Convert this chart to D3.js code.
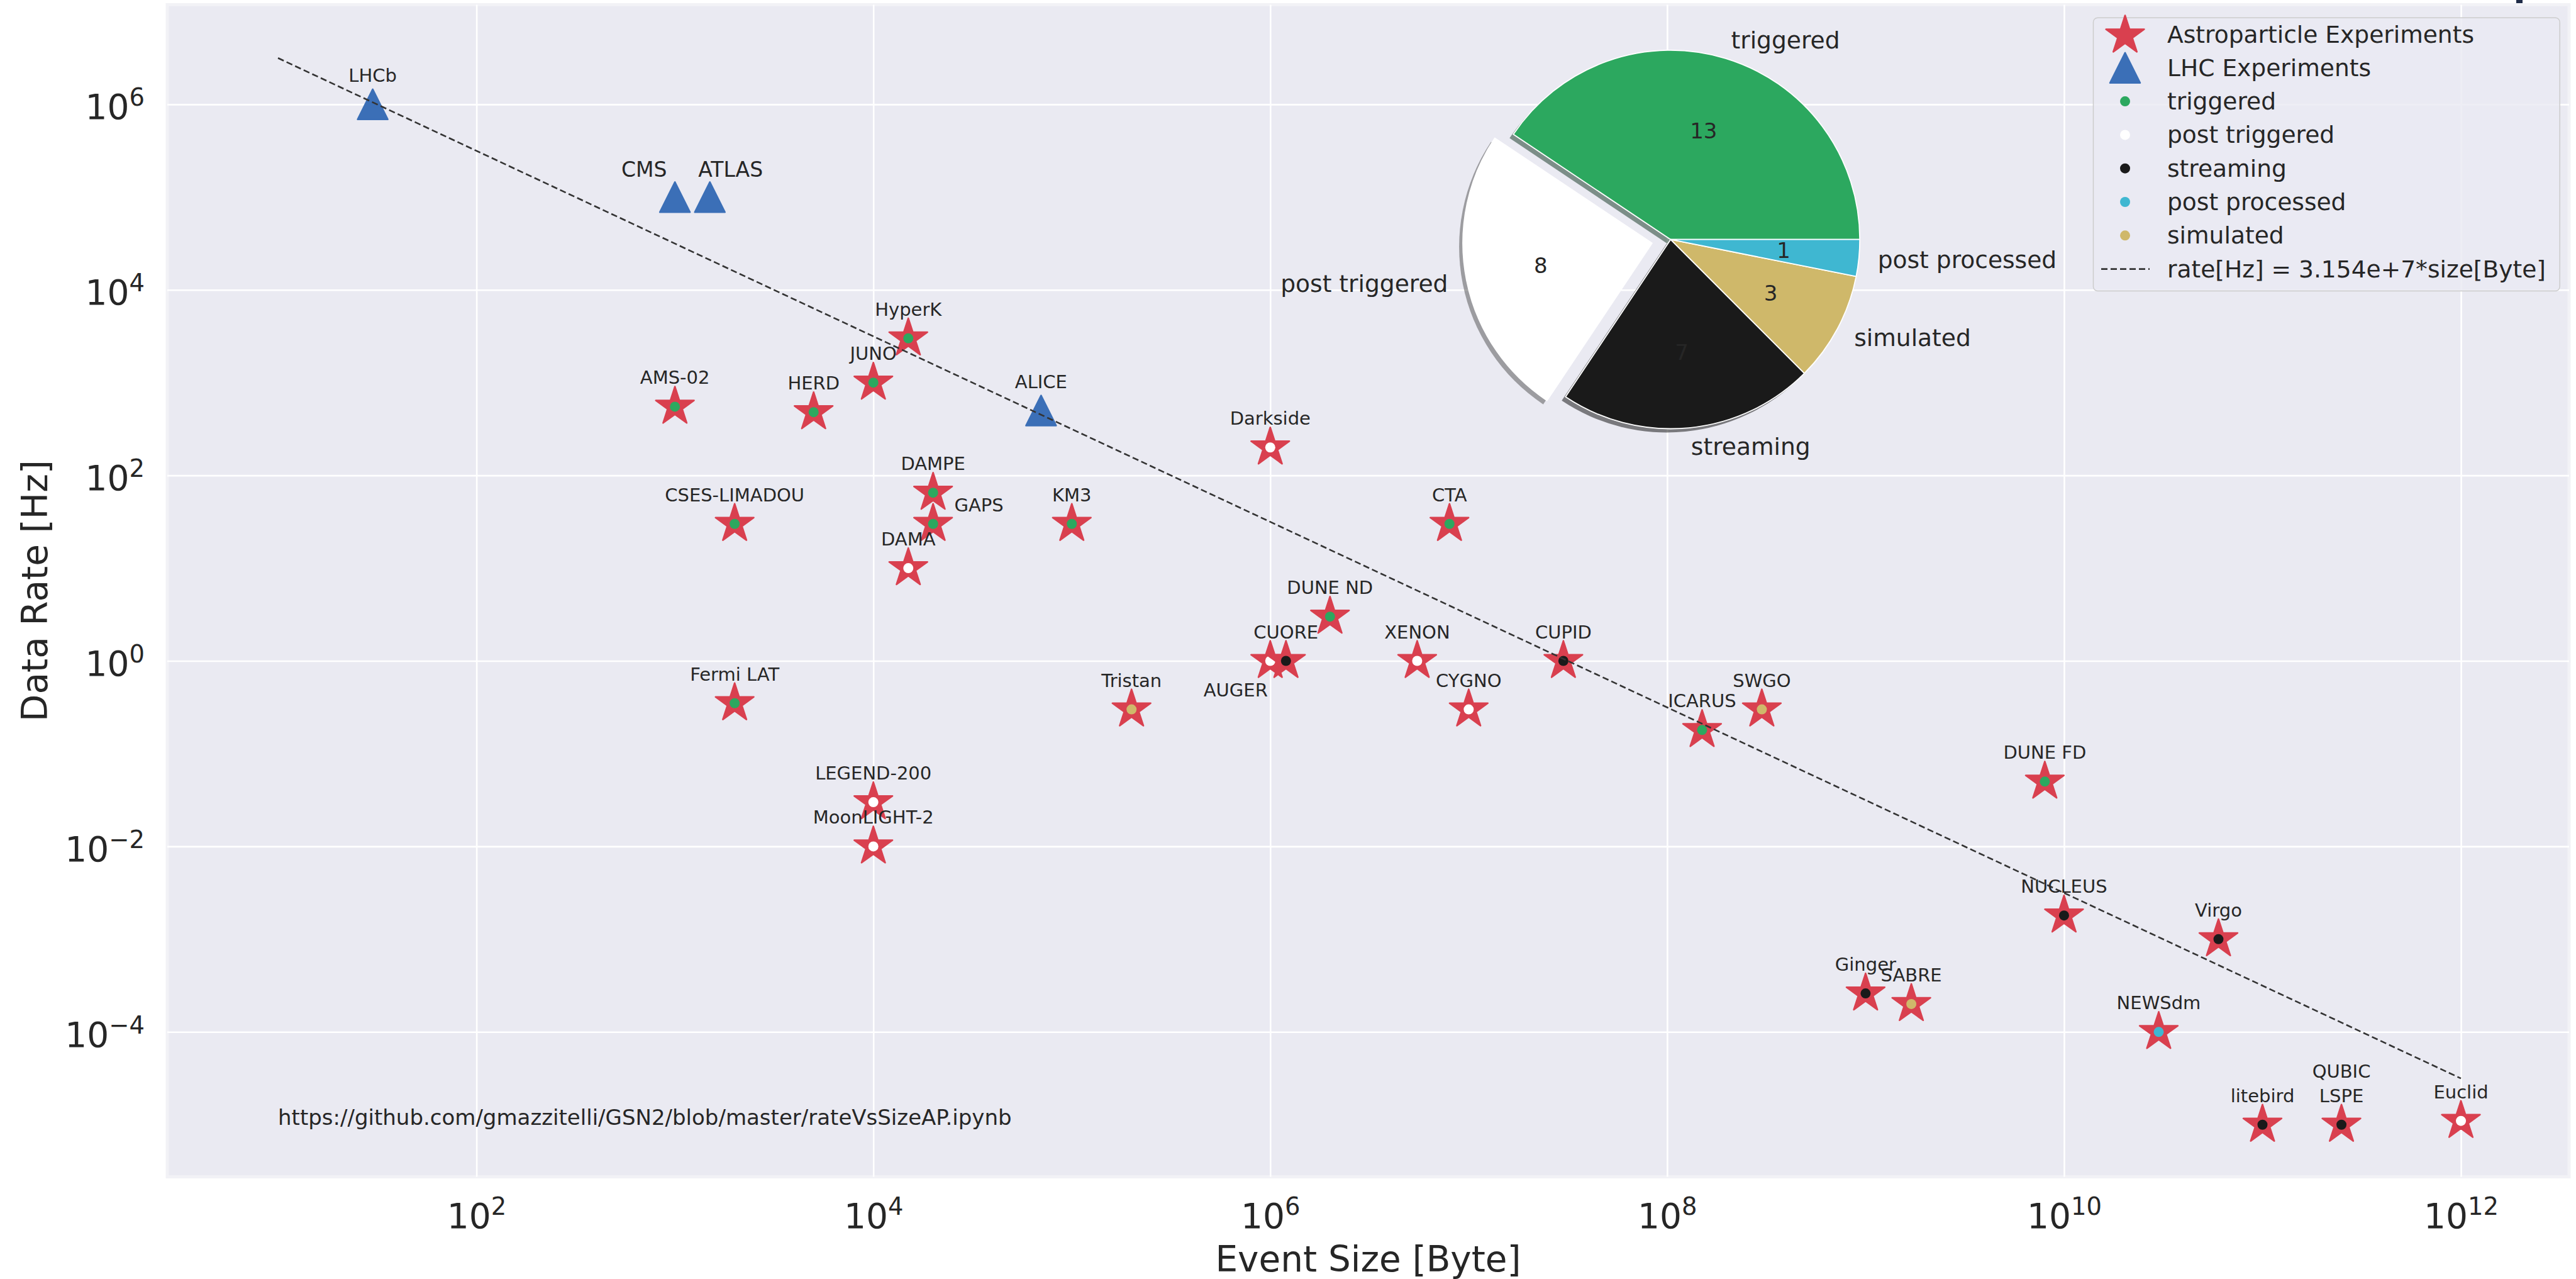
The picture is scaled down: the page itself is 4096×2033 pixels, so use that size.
<!DOCTYPE html>
<html>
<head>
<meta charset="utf-8">
<script src="https://cdn.jsdelivr.net/npm/d3@7"></script>
<style>
  html, body { margin: 0; padding: 0; background: #ffffff; }
  svg { display: block; }
  text { font-family: "DejaVu Sans", sans-serif; fill: #262626; }
</style>
</head>
<body>
<svg id="chart" width="4096" height="2033"></svg>
<script>
// ---------------------------------------------------------------
// Astroparticle experiments: event size [Byte], data rate [Hz], DAQ mode
// ---------------------------------------------------------------
const astroNames = ["HyperK", "JUNO", "AMS-02", "HERD", "DAMPE", "GAPS", "CSES-LIMADOU", "KM3",
  "DAMA", "Darkside", "CTA", "DUNE ND", "AUGER", "CUORE", "XENON", "CYGNO", "CUPID", "Tristan",
  "ICARUS", "SWGO", "Fermi LAT", "LEGEND-200", "MoonLIGHT-2", "DUNE FD", "NUCLEUS", "Virgo",
  "Ginger", "SABRE", "NEWSdm", "litebird", "QUBIC\nLSPE", "Euclid"];
const astroSize = [1.5e4, 1e4, 1e3, 5e3, 2e4, 2e4, 2e3, 1e5,
  1.5e4, 1e6, 8e6, 2e6, 1e6, 1.2e6, 5.5e6, 1e7, 3e7, 2e5,
  1.5e8, 3e8, 2e3, 1e4, 1e4, 8e9, 1e10, 6e10,
  1e9, 1.7e9, 3e10, 1e11, 2.5e11, 1e12];
const astroRate = [3000, 1000, 550, 480, 65, 30, 30, 30,
  10, 200, 30, 3, 1, 1, 1, 0.3, 1, 0.3,
  0.18, 0.3, 0.35, 0.03, 0.01, 0.05, 0.0018, 0.001,
  2.6e-4, 2e-4, 1e-4, 1e-5, 1e-5, 1.1e-5];
const astroMode = ["triggered", "triggered", "triggered", "triggered", "triggered", "triggered", "triggered", "triggered",
  "post triggered", "post triggered", "triggered", "triggered", "post triggered", "streaming", "post triggered", "post triggered", "streaming", "simulated",
  "triggered", "simulated", "triggered", "post triggered", "post triggered", "triggered", "streaming", "streaming",
  "streaming", "simulated", "post processed", "streaming", "streaming", "post triggered"];

// LHC experiments
const lhcNames = ["LHCb", "CMS", "ATLAS", "ALICE"];
const lhcSize = [30, 1e3, 1.5e3, 7e4];
const lhcRate = [1e6, 1e5, 1e5, 500];

// DAQ modes: legend order and pie order
const modeLegend = ["triggered", "post triggered", "streaming", "post processed", "simulated"];
const modePie = ["triggered", "post triggered", "streaming", "simulated", "post processed"];
const modeExplode = [0, 0.1, 0, 0, 0];

// reference line: rate = 3.154e7 / size
const fitCoeff = 3.154e7;
const fitSizes = [10, 1e12];
const fitLabel = "rate[Hz] = 3.154e+7*size[Byte]";

// tick exponents
const xTickExp = [2, 4, 6, 8, 10, 12];
const yTickExp = [-4, -2, 0, 2, 4, 6];

const sourceNote = "https://github.com/gmazzitelli/GSN2/blob/master/rateVsSizeAP.ipynb";
const sourceAt = [10, 1e-5];

// ---------------------------------------------------------------
// styling
// ---------------------------------------------------------------
const modeColor = {
  "triggered": "#2ca85f",
  "post triggered": "#ffffff",
  "streaming": "#1a1a1a",
  "post processed": "#3fb7d1",
  "simulated": "#cfb86a"
};
const starRed = "#d9404f";
const lhcBlue = "#3b6fb7";
const bg = "#eaeaf2";

const plot = { left: 266, right: 4085, top: 7.5, bottom: 1870.6 };
const plotW = plot.right - plot.left, plotH = plot.bottom - plot.top;

const x = d3.scaleLog().domain([Math.pow(10, 0.442), Math.pow(10, 12.545)]).range([plot.left, plot.right]);
const y = d3.scaleLog().domain([Math.pow(10, -5.562), Math.pow(10, 7.074)]).range([plot.bottom, plot.top]);

const svg = d3.select("#chart");

// heading descender clipped by the top edge
svg.append("rect").attr("x", 4001).attr("y", 0).attr("width", 10).attr("height", 5).attr("fill", "#1f2b47");

// plot background
svg.append("rect")
  .attr("x", plot.left).attr("y", plot.top).attr("width", plotW).attr("height", plotH)
  .attr("fill", bg).attr("stroke", "#f2f2f6").attr("stroke-width", 5);

// grid
const gridX = svg.append("g").attr("transform", `translate(0,${plot.bottom})`)
  .call(d3.axisBottom(x).tickValues(xTickExp.map(e => Math.pow(10, e))).tickSize(-plotH).tickFormat(() => ""));
const gridY = svg.append("g").attr("transform", `translate(${plot.left},0)`)
  .call(d3.axisLeft(y).tickValues(yTickExp.map(e => Math.pow(10, e))).tickSize(-plotW).tickFormat(() => ""));
[gridX, gridY].forEach(g => {
  g.select(".domain").remove();
  g.selectAll(".tick line").attr("stroke", "#ffffff").attr("stroke-width", 2.6);
  g.selectAll(".tick text").remove();
});

// power-of-ten tick label
const tickFont = 55;
function powLabel(sel, e) {
  sel.append("tspan").text("10");
  sel.append("tspan").attr("dy", -21).attr("font-size", tickFont * 0.7)
    .text(e < 0 ? "\u2212" + (-e) : String(e));
}
gridX.selectAll(".tick").each(function (d) {
  const t = d3.select(this).append("text")
    .attr("y", 1952.4 - plot.bottom).attr("text-anchor", "middle")
    .attr("font-size", tickFont).attr("fill", "#262626");
  powLabel(t, Math.round(Math.log10(d)));
});
gridY.selectAll(".tick").each(function (d) {
  const t = d3.select(this).append("text")
    .attr("x", 230 - plot.left).attr("y", 23).attr("text-anchor", "end")
    .attr("font-size", tickFont).attr("fill", "#262626");
  powLabel(t, Math.round(Math.log10(d)));
});

// axis titles
svg.append("text").attr("x", (plot.left + plot.right) / 2).attr("y", 2021)
  .attr("text-anchor", "middle").attr("font-size", 56.4).text("Event Size [Byte]");
svg.append("text")
  .attr("transform", `translate(75,${(plot.top + plot.bottom) / 2}) rotate(-90)`)
  .attr("text-anchor", "middle").attr("font-size", 56.4).text("Data Rate [Hz]");

// source note
svg.append("text").attr("x", x(sourceAt[0])).attr("y", y(sourceAt[1]))
  .attr("font-size", 34).text(sourceNote);

// marker shapes
function starPath(R) {
  const r = R * 0.381966;
  let p = "";
  for (let i = 0; i < 10; i++) {
    const a = -Math.PI / 2 + i * Math.PI / 5;
    const rr = i % 2 ? r : R;
    p += (i ? "L" : "M") + (rr * Math.cos(a)).toFixed(2) + "," + (rr * Math.sin(a)).toFixed(2);
  }
  return p + "Z";
}
function triPath(h) {
  return `M0,${-h / 2}L${-h / 2},${h / 2}L${h / 2},${h / 2}Z`;
}
const STAR_R = 32, TRI = 48, DOT_R = 8;

const astro = astroNames.map((n, i) => ({ name: n, size: astroSize[i], rate: astroRate[i], mode: astroMode[i] }));
const lhc = lhcNames.map((n, i) => ({ name: n, size: lhcSize[i], rate: lhcRate[i] }));

const marks = svg.append("g");
const astroG = marks.selectAll("g.astro").data(astro).join("g")
  .attr("class", "astro")
  .attr("transform", d => `translate(${x(d.size)},${y(d.rate)})`);
astroG.append("path").attr("d", starPath(STAR_R))
  .attr("fill", starRed).attr("stroke", starRed).attr("stroke-width", 2.5).attr("stroke-linejoin", "round");
astroG.append("circle").attr("r", DOT_R).attr("fill", d => modeColor[d.mode]);

marks.selectAll("path.lhc").data(lhc).join("path")
  .attr("class", "lhc")
  .attr("transform", d => `translate(${x(d.size)},${y(d.rate)})`)
  .attr("d", triPath(TRI))
  .attr("fill", lhcBlue).attr("stroke", lhcBlue).attr("stroke-width", 2.5).attr("stroke-linejoin", "round");

// reference line
const line = d3.line().x(d => x(d)).y(d => y(fitCoeff / d));
svg.append("path").datum(fitSizes).attr("d", line)
  .attr("fill", "none").attr("stroke", "#333333").attr("stroke-width", 2.6).attr("stroke-dasharray", "10,5");

// point labels: offsets (px) from the marker, default straight above
const labelOffset = {
  "GAPS": [73, -30], "AUGER": [-55, 46], "CMS": [-49, -44], "ATLAS": [33, -44]
};
const labelSize = { "CMS": 33, "ATLAS": 33 };
const allPts = astro.concat(lhc);
const labels = svg.append("g");
allPts.forEach(d => {
  const off = labelOffset[d.name] || [0, -46];
  const lines = d.name.split("\n");
  lines.forEach((ln, k) => {
    labels.append("text")
      .attr("x", x(d.size) + off[0])
      .attr("y", y(d.rate) + off[1] - (lines.length - 1 - k) * 38.5)
      .attr("text-anchor", "middle").attr("dominant-baseline", "central")
      .attr("font-size", labelSize[d.name] || 29)
      .text(ln);
  });
});

// ---------------------------------------------------------------
// pie of DAQ modes (counts of astroparticle experiments)
// ---------------------------------------------------------------
const counts = d3.rollup(astro, v => v.length, d => d.mode);
const pieData = modePie.map((m, i) => ({ mode: m, n: counts.get(m) || 0, explode: modeExplode[i] }));
const pc = [2656.4, 380.7], pr = 300.8;
const arcs = d3.pie().sort(null).value(d => d.n).startAngle(Math.PI / 2).endAngle(Math.PI / 2 - 2 * Math.PI)(pieData);
const arcGen = d3.arc().innerRadius(0).outerRadius(pr);
const pieG = svg.append("g").attr("transform", `translate(${pc[0]},${pc[1]})`);
function mid(a) { return (a.startAngle + a.endAngle) / 2; }
function shift(a, k) { const m = mid(a); return [Math.sin(m) * k * pr, -Math.cos(m) * k * pr]; }

// shadows beneath all wedges
pieG.selectAll("path.shadow").data(arcs).join("path")
  .attr("class", "shadow")
  .attr("transform", a => { const s = shift(a, a.data.explode); return `translate(${s[0] - 6},${s[1] + 6})`; })
  .attr("d", arcGen)
  .attr("fill", a => { const c = d3.rgb(modeColor[a.data.mode]); return d3.rgb(c.r * 0.3, c.g * 0.3, c.b * 0.3); })
  .attr("fill-opacity", 0.5);
pieG.selectAll("path.wedge").data(arcs).join("path")
  .attr("class", "wedge")
  .attr("transform", a => { const s = shift(a, a.data.explode); return `translate(${s[0]},${s[1]})`; })
  .attr("d", arcGen)
  .attr("fill", a => modeColor[a.data.mode])
  .attr("stroke", "#ffffff").attr("stroke-width", 1.8).attr("stroke-linejoin", "round");
// wedge counts
pieG.selectAll("text.count").data(arcs).join("text")
  .attr("class", "count")
  .attr("x", a => shift(a, a.data.explode + 0.6)[0])
  .attr("y", a => shift(a, a.data.explode + 0.6)[1])
  .attr("text-anchor", "middle").attr("dominant-baseline", "central")
  .attr("font-size", 34).text(a => a.data.n);
// wedge names
pieG.selectAll("text.name").data(arcs).join("text")
  .attr("class", "name")
  .attr("x", a => shift(a, a.data.explode + 1.1)[0])
  .attr("y", a => shift(a, a.data.explode + 1.1)[1])
  .attr("text-anchor", a => shift(a, 1)[0] > 0 ? "start" : "end")
  .attr("dominant-baseline", "central")
  .attr("font-size", 37.6).text(a => a.data.mode);

// ---------------------------------------------------------------
// legend
// ---------------------------------------------------------------
const lg = svg.append("g");
lg.append("rect").attr("x", 3328.5).attr("y", 28.2).attr("width", 741.7).attr("height", 434.3)
  .attr("rx", 7).attr("fill", bg).attr("fill-opacity", 0.8).attr("stroke", "#cccccc").attr("stroke-width", 1.5);
const legendItems = [{ kind: "star", label: "Astroparticle Experiments" }, { kind: "tri", label: "LHC Experiments" }]
  .concat(modeLegend.map(m => ({ kind: "dot", mode: m, label: m })))
  .concat([{ kind: "line", label: fitLabel }]);
const lgX = 3379, lgTextX = 3446, lgY0 = 54.5, lgStep = 53.3;
legendItems.forEach((it, i) => {
  const cy = lgY0 + i * lgStep;
  if (it.kind === "star") {
    lg.append("path").attr("transform", `translate(${lgX},${cy + 2})`).attr("d", starPath(STAR_R))
      .attr("fill", starRed).attr("stroke", starRed).attr("stroke-width", 2.5).attr("stroke-linejoin", "round");
  } else if (it.kind === "tri") {
    lg.append("path").attr("transform", `translate(${lgX},${cy})`).attr("d", triPath(TRI))
      .attr("fill", lhcBlue).attr("stroke", lhcBlue).attr("stroke-width", 2.5).attr("stroke-linejoin", "round");
  } else if (it.kind === "dot") {
    lg.append("circle").attr("cx", lgX).attr("cy", cy).attr("r", DOT_R).attr("fill", modeColor[it.mode]);
  } else {
    lg.append("line").attr("x1", 3341).attr("x2", 3418).attr("y1", cy).attr("y2", cy)
      .attr("stroke", "#333333").attr("stroke-width", 2.6).attr("stroke-dasharray", "10,5");
  }
  lg.append("text").attr("x", lgTextX).attr("y", cy).attr("dominant-baseline", "central")
    .attr("font-size", 37.6).text(it.label);
});
</script>
</body>
</html>
